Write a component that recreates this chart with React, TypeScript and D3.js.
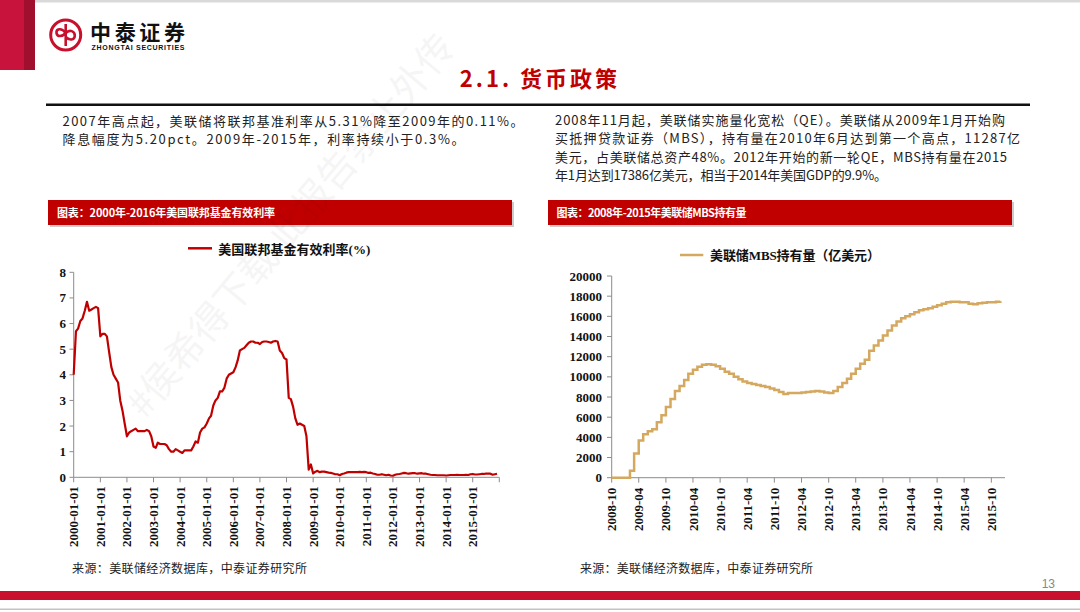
import React from 'react';
import * as d3 from 'd3';

// 美国联邦基金有效利率(%)，月度，2000-01 起
const fedRate: number[] = [
  4.0, 5.7, 5.8, 6.1, 6.2, 6.5, 6.85, 6.5, 6.55, 6.6, 6.65, 6.6,
  5.5, 5.6, 5.6, 5.5, 4.9, 4.3, 4.0, 3.85, 3.7, 3.0, 2.6, 2.1,
  1.6, 1.75, 1.8, 1.85, 1.9, 1.8, 1.8, 1.8, 1.8, 1.85, 1.8, 1.6,
  1.2, 1.15, 1.35, 1.3, 1.3, 1.3, 1.25, 1.1, 1.0, 1.0, 1.1, 1.05,
  1.0, 0.95, 1.05, 1.05, 1.05, 1.05, 1.2, 1.4, 1.35, 1.75, 1.9, 1.95,
  2.1, 2.3, 2.4, 2.8, 3.0, 3.1, 3.35, 3.35, 3.5, 3.85, 4.0, 4.05,
  4.1, 4.3, 4.55, 4.95, 5.0, 5.05, 5.15, 5.25, 5.3, 5.3, 5.25, 5.25,
  5.2, 5.28, 5.3, 5.3, 5.28, 5.25, 5.3, 5.32, 5.3, 4.95, 4.85, 4.65,
  4.6, 3.1, 3.05, 2.75, 2.3, 2.05, 2.1, 2.05, 2.0, 1.6, 0.3, 0.5,
  0.15, 0.22, 0.25, 0.2, 0.22, 0.22, 0.2, 0.18, 0.17, 0.15, 0.12, 0.12,
  0.08, 0.13, 0.15, 0.18, 0.2, 0.2, 0.2, 0.2, 0.2, 0.21, 0.2, 0.21,
  0.2, 0.17, 0.18, 0.15, 0.13, 0.1, 0.1, 0.12, 0.1, 0.08, 0.1, 0.07,
  0.06, 0.1, 0.12, 0.13, 0.15, 0.17, 0.16, 0.14, 0.15, 0.16, 0.16, 0.14,
  0.15, 0.16, 0.14, 0.14, 0.12, 0.1, 0.09, 0.09, 0.08, 0.08, 0.08, 0.08,
  0.07, 0.08, 0.09, 0.09, 0.09, 0.1, 0.09, 0.09, 0.09, 0.1, 0.09, 0.12,
  0.13, 0.11, 0.11, 0.12, 0.13, 0.13, 0.14, 0.14, 0.14, 0.1, 0.12, 0.14,
];
const rateStart = new Date(2000, 0, 1);

// 美联储MBS持有量（亿美元），月度，2008-10 起
const mbsHoldings: number[] = [
  0, 0, 0, 0, 700, 2400, 3700, 4300, 4600, 4800, 5500, 6200,
  7000, 7800, 8600, 9100, 9700, 10300, 10700, 11000, 11200, 11250, 11200, 11050,
  10800, 10500, 10300, 10000, 9750, 9550, 9400, 9300, 9200, 9100, 9000, 8850,
  8700, 8500, 8300, 8400, 8400, 8400, 8450, 8500, 8550, 8600, 8550, 8450,
  8400, 8600, 9000, 9400, 9800, 10300, 10800, 11300, 11700, 12600, 13100, 13600,
  14100, 14600, 15100, 15500, 15800, 16000, 16200, 16400, 16600, 16700, 16800, 16950,
  17100, 17250, 17400, 17450, 17450, 17400, 17400, 17250, 17200, 17300, 17350, 17400,
  17400, 17450, 17500,
];
const mbsStart = new Date(2008, 9, 1);

const leftParagraph = [
  '2007年高点起，美联储将联邦基准利率从5.31%降至2009年的0.11%。',
  '降息幅度为5.20pct。2009年-2015年，利率持续小于0.3%。',
];
const leftWidths = [461, 402];
const rightParagraph = [
  '2008年11月起，美联储实施量化宽松（QE）。美联储从2009年1月开始购',
  '买抵押贷款证券（MBS），持有量在2010年6月达到第一个高点，11287亿',
  '美元，占美联储总资产48%。2012年开始的新一轮QE，MBS持有量在2015',
  '年1月达到17386亿美元，相当于2014年美国GDP的9.9%。',
];
const rightWidths = [450, 465, 452, 332];

const RED = '#c00000';
const GOLD = '#d4a85f';
const AXIS = '#8c8c8c';
const serif = "'Liberation Serif', 'Times New Roman', serif";
const cjk = "'Noto Sans CJK SC', sans-serif";
const legendFont = "'Liberation Serif', 'Noto Sans CJK SC', serif";

const App = () => {
  // 左图：联邦基金利率
  const rateDates = fedRate.map((_, i) => d3.timeMonth.offset(rateStart, i));
  const xL = d3.scaleTime().domain([new Date(2000, 0, 1), new Date(2016, 0, 1)]).range([73.7, 499.3]);
  const yL = d3.scaleLinear().domain([0, 8]).range([477.3, 272.3]);
  const lineL = d3
    .line<number>()
    .x((_, i) => xL(rateDates[i]))
    .y((d) => yL(d));
  const xLTicks = d3.timeYear.range(new Date(2000, 0, 1), new Date(2016, 0, 2));
  const fmtL = d3.timeFormat('%Y-%m-%d');

  // 右图：MBS 持有量
  const mbsDates = mbsHoldings.map((_, i) => d3.timeMonth.offset(mbsStart, i));
  const xR = d3.scaleTime().domain([new Date(2008, 9, 1), new Date(2016, 0, 1)]).range([611.7, 1005]);
  const yR = d3.scaleLinear().domain([0, 20000]).range([477.7, 276]);
  const lineR = d3
    .line<number>()
    .x((_, i) => xR(mbsDates[i]))
    .y((d) => yR(d))
    .curve(d3.curveStepAfter);
  const xRTicks = d3.timeMonth.range(new Date(2008, 9, 1), new Date(2015, 9, 2), 6);
  const fmtR = d3.timeFormat('%Y-%m');

  return (
    <svg
      width={1080}
      height={612}
      style={{ position: 'absolute', left: 0, top: 0, display: 'block', background: '#fff' }}
    >
      {/* 页眉 */}
      <rect x={0} y={0} width={24} height={70} fill="#c8143c" />
      <rect x={24} y={0} width={11} height={70} fill="#a0102e" />
      <rect x={35} y={0} width={1045} height={2.5} fill="#d9d9d9" />
      <circle cx={65.7} cy={35} r={15} fill="none" stroke="#c8102e" strokeWidth={3} />
      <path
        d="M65.7,24 L65.7,46 M65.7,33 C61,27 56,29 56.5,33 C57,37 62,37 65.7,33 C69.5,29 75,31 74.8,36 C74.5,40 69.5,41 65.7,37"
        fill="none"
        stroke="#c8102e"
        strokeWidth={2.6}
      />
      <text x={90} y={39.5} fontFamily={cjk} fontWeight={700} fontSize={21} textLength={95} fill="#111">
        中泰证券
      </text>
      <text x={91.5} y={50} fontFamily="'Liberation Sans', Arial, sans-serif" fontWeight={700} fontSize={7} textLength={93} fill="#111">
        ZHONGTAI SECURITIES
      </text>

      {/* 标题 */}
      <text x={540} y={87} textAnchor="middle" fontFamily={cjk} fontWeight={700} fontSize={22} letterSpacing={3} fill={RED}>
        2.1. 货币政策
      </text>
      <rect x={46} y={103.5} width={984} height={2.5} fill="#111" />

      {/* 正文 */}
      {leftParagraph.map((t, i) => (
        <text key={'l' + i} x={62.5} y={125.5 + i * 18.3} fontFamily={cjk} fontSize={13} textLength={leftWidths[i]} lengthAdjust="spacing" fill="#222">
          {t}
        </text>
      ))}
      {rightParagraph.map((t, i) => (
        <text key={'r' + i} x={555} y={125 + i * 18.4} fontFamily={cjk} fontSize={13} textLength={rightWidths[i]} lengthAdjust="spacing" fill="#222">
          {t}
        </text>
      ))}

      {/* 图表标题栏 */}
      <rect x={50} y={202} width={464} height={25} fill="#9a9a9a" opacity={0.5} />
      <rect x={48} y={200} width={464} height={25} fill={RED} />
      <text x={57} y={217} fontFamily={cjk} fontSize={11} fontWeight={700} textLength={218} fill="#fff">
        图表：2000年-2016年美国联邦基金有效利率
      </text>
      <rect x={550} y={202} width={464} height={25} fill="#9a9a9a" opacity={0.5} />
      <rect x={548} y={200} width={464} height={25} fill={RED} />
      <text x={556.5} y={217} fontFamily={cjk} fontSize={11} fontWeight={700} textLength={190} fill="#fff">
        图表：2008年-2015年美联储MBS持有量
      </text>

      {/* 左图 */}
      <line x1={188} x2={212} y1={248.3} y2={248.3} stroke={RED} strokeWidth={2.5} />
      <text x={218.3} y={253.5} fontFamily={legendFont} fontWeight={700} fontSize={13} textLength={152} fill="#111">
        美国联邦基金有效利率(%)
      </text>
      <line x1={73.7} x2={73.7} y1={yL(8)} y2={yL(0)} stroke={AXIS} />
      <line x1={73.7} x2={499.3} y1={yL(0)} y2={yL(0)} stroke={AXIS} />
      {yL.ticks(8).map((t) => (
        <g key={'yl' + t}>
          <line x1={69.5} x2={73.7} y1={yL(t)} y2={yL(t)} stroke={AXIS} />
          <text x={66} y={yL(t)} dy="0.35em" textAnchor="end" fontFamily={serif} fontWeight={700} fontSize={13} fill="#111">
            {t}
          </text>
        </g>
      ))}
      {xLTicks.map((d, i) => (
        <g key={'xl' + i}>
          <line x1={xL(d)} x2={xL(d)} y1={yL(0)} y2={yL(0) + 5} stroke={AXIS} />
          {i < xLTicks.length - 1 && (
            <text
              transform={`translate(${xL(d)},${yL(0) + 9}) rotate(-90)`}
              dy="0.35em"
              textAnchor="end"
              fontFamily={serif}
              fontWeight={700}
              fontSize={13}
              fill="#111"
            >
              {fmtL(d)}
            </text>
          )}
        </g>
      ))}
      <path d={lineL(fedRate) || ''} fill="none" stroke={RED} strokeWidth={2.2} strokeLinejoin="round" />

      {/* 右图 */}
      <line x1={680} x2={703.3} y1={255} y2={255} stroke={GOLD} strokeWidth={2.5} />
      <text x={710} y={260} fontFamily={legendFont} fontWeight={700} fontSize={13} textLength={170} fill="#111">
        美联储MBS持有量（亿美元）
      </text>
      <line x1={611.7} x2={611.7} y1={yR(20000)} y2={yR(0)} stroke={AXIS} />
      <line x1={611.7} x2={1005} y1={yR(0)} y2={yR(0)} stroke={AXIS} />
      {yR.ticks(10).map((t) => (
        <g key={'yr' + t}>
          <line x1={607} x2={611.7} y1={yR(t)} y2={yR(t)} stroke={AXIS} />
          <text x={602} y={yR(t)} dy="0.35em" textAnchor="end" fontFamily={serif} fontWeight={700} fontSize={13} fill="#111">
            {t}
          </text>
        </g>
      ))}
      {xRTicks.map((d, i) => (
        <g key={'xr' + i}>
          <line x1={xR(d)} x2={xR(d)} y1={yR(0)} y2={yR(0) + 5} stroke={AXIS} />
          <text
            transform={`translate(${xR(d)},${yR(0) + 10}) rotate(-90)`}
            dy="0.35em"
            textAnchor="end"
            fontFamily={serif}
            fontWeight={700}
            fontSize={13}
            fill="#111"
          >
            {fmtR(d)}
          </text>
        </g>
      ))}
      <path d={lineR(mbsHoldings) || ''} fill="none" stroke={GOLD} strokeWidth={2.5} />

      {/* 来源 */}
      <text x={72} y={573} fontFamily={cjk} fontSize={12} textLength={235} fill="#222">
        来源：美联储经济数据库，中泰证券研究所
      </text>
      <text x={580} y={573} fontFamily={cjk} fontSize={12} textLength={233} fill="#222">
        来源：美联储经济数据库，中泰证券研究所
      </text>

      {/* 水印 */}
      <text
        transform="translate(145,420) rotate(-50)"
        fontFamily={cjk}
        fontSize={38}
        fill="#000"
        opacity={0.035}
      >
        #侯希得下载 此报告禁止外传
      </text>

      {/* 页脚 */}
      <text x={1055} y={588} textAnchor="end" fontFamily="'Liberation Sans', Arial, sans-serif" fontSize={12} fill="#888">
        13
      </text>
      <rect x={0} y={591} width={1080} height={9} fill="#c8102e" />
      <rect x={0} y={608.5} width={1080} height={1.5} fill="#c4c4c4" />
    </svg>
  );
};

export default App;
